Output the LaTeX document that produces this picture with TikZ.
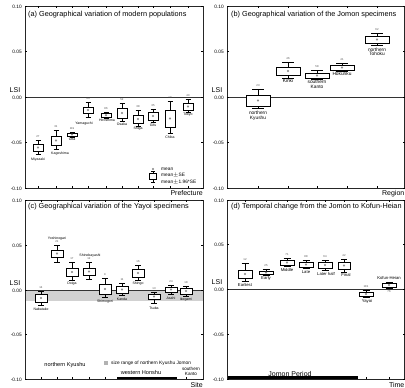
\documentclass[tikz,border=0pt]{standalone}
\usepackage{fontspec}
\setmainfont{Liberation Sans}
\usepackage{tikz}
\usetikzlibrary{positioning}

\tikzset{
  frame/.style={draw=black!85, line width=0.7pt},
  zeroline/.style={draw=black!80, line width=0.9pt},
  tickmark/.style={line width=0.4pt},
  whisker/.style={line width=0.45pt},
  boxshape/.style={draw, fill=white, line width=0.55pt},
  meanmark/.style={draw=black!55, line width=0.3pt},
  paneltitle/.style={font=\fontsize{7.3}{8}\selectfont, anchor=west, inner sep=0pt},
  ticklabel/.style={font=\fontsize{4.8}{5}\selectfont, anchor=east, inner sep=0pt},
  lsilabel/.style={font=\fontsize{7}{7}\selectfont, inner sep=0pt},
  axisname/.style={font=\fontsize{7}{7}\selectfont, inner sep=0pt},
  sitesmall/.style={font=\fontsize{3.5}{3.8}\selectfont, inner sep=0pt, align=center},
  sitebig/.style={font=\fontsize{4.8}{5}\selectfont, inner sep=0pt, align=center},
  sitemid/.style={font=\fontsize{4.2}{4.5}\selectfont, inner sep=0pt, align=center},
  ncount/.style={font=\fontsize{2.8}{3}\selectfont, inner sep=0pt, text=black!70},
  grouplabel/.style={font=\fontsize{5.6}{6}\selectfont, inner sep=0pt, align=center},
  legendtxt/.style={font=\fontsize{4.8}{5}\selectfont, anchor=west, inner sep=0pt}
}

% #1 x, #2 whisker top, #3 box top, #4 box bottom, #5 whisker bottom, #6 half width
\newcommand{\lsibox}[6]{%
  \draw[whisker] (#1,#2) -- (#1,#3) (#1,#4) -- (#1,#5)
    (#1-0.5*#6,#2) -- (#1+0.5*#6,#2) (#1-0.5*#6,#5) -- (#1+0.5*#6,#5);
  \draw[boxshape] (#1-#6,#3) rectangle (#1+#6,#4);
  \draw[meanmark] (#1,{(#3+#4)/2}) circle (0.9);
}

\begin{document}
\begin{tikzpicture}[x=1pt,y=-1pt]
  \useasboundingbox (0,0) rectangle (405,388);
  % size range band in (c)
  \fill[black!18] (25,290) rectangle (203,301);
  % frames, zero lines and axes
  \foreach \xl/\xr/\yt/\yz/\yb/\p in {25/203/6/97/188/a, 227/404.5/6/97/188/b,
      25/203/200/290/379/c, 227/404.5/200/289/379/d} {
    \pgfmathsetmacro{\yu}{(\yt+\yz)/2}
    \pgfmathsetmacro{\yl}{(\yz+\yb)/2}
    \draw[frame] (\xl,\yt) rectangle (\xr,\yb);
    \draw[zeroline] (\xl,\yz) -- (\xr,\yz);
    \foreach \yy/\lab [count=\i] in {\yt/0.10, \yu/0.05, \yz/0.00, \yl/-0.05, \yb/-0.10} {
      \draw[tickmark] (\xl,\yy) -- ++(2,0);
      \draw[tickmark] (\xr,\yy) -- ++(-2,0);
      \node[ticklabel] (tick\p\i) at (\xl-3,\yy+0.5) {\lab};
    }
    \node[lsilabel] (lsi\p) at (\xl-10,\yz-6.5) {LSI};
  }
  % category ticks
  \foreach \cx in {38,56,72,88,106,122,138,153,170,188}
    \draw[tickmark] (\cx,6) -- ++(0,2) (\cx,188) -- ++(0,-2);
  \foreach \cx in {258,288,317,347,377}
    \draw[tickmark] (\cx,6) -- ++(0,2) (\cx,188) -- ++(0,-2);
  \foreach \cx in {41,57,72,89,105,122,138,154,171,186}
    \draw[tickmark] (\cx,200) -- ++(0,2) (\cx,379) -- ++(0,-2);
  \foreach \cx in {245,266,287,306,325,344,366,389}
    \draw[tickmark] (\cx,200) -- ++(0,2) (\cx,379) -- ++(0,-2);

  % panel titles
  \node[paneltitle] (titlea) at (28,15) {(a) Geographical variation of modern populations};
  \node[paneltitle] (titleb) at (231,15) {(b) Geographical variation of the Jomon specimens};
  \node[paneltitle] (titlec) at (28,207) {(c) Geographical variation of the Yayoi specimens};
  \node[paneltitle] (titled) at (231,207) {(d) Temporal change from the Jomon to Kofun-Heian};

  % axis names
  \node[axisname, anchor=east] (prefecture) at (203,193.5) {Prefecture};
  \node[axisname, anchor=east] (region) at (404.5,193.5) {Region};
  \node[axisname, anchor=east] (site) at (203,384.5) {Site};
  \node[axisname, anchor=east] (time) at (404.5,384.5) {Time};

  % (a) modern populations
  \lsibox{38}{140}{144}{151}{154}{5}
  \lsibox{56}{130}{136}{145}{149}{5}
  \lsibox{72}{132}{133}{136}{137}{5}
  \lsibox{88}{102}{107}{113}{117}{5}
  \lsibox{106}{112}{113.5}{117}{118}{5}
  \lsibox{122}{103}{108}{118}{121}{5}
  \lsibox{138}{110}{115}{123}{126}{5}
  \lsibox{153}{109}{112}{120}{122}{5}
  \lsibox{170}{101}{110}{127}{133}{5}
  \lsibox{188}{99}{103}{110}{112}{5}
  \node[sitesmall] (miyazaki) at (38,159.5) {Miyazaki};
  \node[sitesmall] (kagoshima) at (60,153.5) {Kagoshima};
  \node[sitesmall] (oita) at (72,139.5) {Oita};
  \node[sitesmall] (yamaguchi) at (84,123.5) {Yamaguchi};
  \node[sitesmall] (hiroshima) at (107,120.5) {Hiroshima};
  \node[sitesmall] (osaka) at (122,124) {Osaka};
  \node[sitesmall] (shiga) at (138,129) {Shiga};
  \node[sitesmall] (gifu) at (153,125) {Gifu};
  \node[sitesmall] (chiba) at (170,137) {Chiba};
  \node[sitesmall] (tokyo) at (188,114.5) {Tokyo};
  \foreach \nx/\ny/\nn [count=\j] in {38/137/27, 56/127/31, 72/129/119, 88/99/44,
      106/109/86, 122/100/52, 138/107/38, 153/106/35, 170/98/19, 188/96/40}
    \node[ncount] (na\j) at (\nx,\ny) {\nn};
  % legend
  \draw[meanmark] (153,169) circle (0.9);
  \draw[whisker] (153,171) -- (153,182) (151,171) -- (155,171) (151,182) -- (155,182);
  \draw[boxshape] (149.5,173) rectangle (156.5,179.5);
  \node[legendtxt] (legmean) at (161,169) {mean};
  \node[legendtxt] (legse) at (161,175.5) {mean$\pm$SE};
  \node[legendtxt] (legci) at (161,182) {mean$\pm$1.96*SE};

  % (b) Jomon regions
  \lsibox{258}{89}{95}{106}{108}{12}
  \lsibox{288}{62}{67}{75}{78}{12}
  \lsibox{317}{70}{73}{78}{79}{12}
  \lsibox{342}{63}{65}{70}{71}{12}
  \lsibox{377}{33}{36}{43}{45}{12}
  \node[sitebig] (nkyushu) at (258,116) {northern\\[-0.5pt]Kyushu};
  \node[sitebig] (kinki) at (288,81) {Kinki};
  \node[sitebig] (skanto) at (317,84.5) {southern\\[-0.5pt]Kanto};
  \node[sitebig] (hokuriku) at (342,74) {Hokuriku};
  \node[sitebig] (ntohoku) at (377,52) {northern\\[-0.5pt]Tohoku};
  \foreach \nx/\ny/\nn [count=\j] in {258/86/23, 288/59/46, 317/67/58, 342/60/41, 377/30/62}
    \node[ncount] (nb\j) at (\nx,\ny) {\nn};

  % (c) Yayoi sites
  \lsibox{41}{291}{294}{302}{305}{6}
  \lsibox{57}{245}{250}{257}{262}{6}
  \lsibox{72}{262}{268}{276}{280}{6}
  \lsibox{89}{262}{268}{275}{279}{6}
  \lsibox{105}{278}{284}{294}{297}{6}
  \lsibox{122}{283}{286}{293}{295}{6}
  \lsibox{138}{265}{269}{277}{280}{6}
  \lsibox{154}{292}{294}{299}{303}{6}
  \lsibox{171}{285}{287}{292}{294}{6}
  \lsibox{186}{286}{288}{294}{296}{6}
  \node[sitesmall] (nabatake) at (41,309) {Nabatake};
  \node[sitesmall] (yoshinogari) at (57,239) {Yoshinogari};
  \node[sitesmall] (doiga) at (72,284) {Doiga};
  \node[sitesmall] (shinobayashi) at (90,256) {Shinobayashi};
  \node[sitesmall] (shimogori) at (105,302) {Shimogori};
  \node[sitesmall] (kanda) at (122,299) {Kanda};
  \node[sitesmall] (shingo) at (138,283.5) {Shingo};
  \node[sitesmall] (tsuba) at (154,308) {Tsuba};
  \node[sitesmall] (asahi) at (171,298) {Asahi};
  \node[sitesmall] (ikegami) at (186,300) {Ikegami};
  \foreach \nx/\ny/\nn [count=\j] in {41/288/14, 57/242/21, 72/259/17, 89/259/12, 105/275/9,
      122/280/11, 138/262/16, 154/289/13, 171/282/24, 186/283/18}
    \node[ncount] (nc\j) at (\nx,\ny) {\nn};
  % legend and groups of (c)
  \fill[black!30] (104,361) rectangle (108,365);
  \node[legendtxt] (sizerange) at (111,363) {size range of northern Kyushu Jomon};
  \node[grouplabel] (gkyushu) at (65,365.5) {northern Kyushu};
  \node[grouplabel] (ghonshu) at (141,372) {western Honshu};
  \node[grouplabel, font=\fontsize{4.6}{4.8}\selectfont] (gkanto) at (191,371.5) {southern\\Kanto};
  \fill (117,376.6) rectangle (177,379);

  % (d) temporal change
  \lsibox{245}{263}{270}{278}{281}{7}
  \lsibox{266}{269}{271}{274}{275}{7}
  \lsibox{287}{258}{260}{265}{266}{7}
  \lsibox{306}{260}{262}{267}{268}{7}
  \lsibox{325}{260}{262}{268}{270}{7}
  \lsibox{344}{259}{262}{269}{272}{6}
  \lsibox{366}{290}{292}{296}{297}{7}
  \lsibox{389}{282}{283}{287}{288}{7}
  \node[sitemid] (earliest) at (245,285) {Earliest};
  \node[sitemid] (early) at (266,278.5) {Early};
  \node[sitemid] (middle) at (287,269.5) {Middle};
  \node[sitemid] (late) at (306,272.5) {Late};
  \node[sitemid] (laterhalf) at (326,274) {Later half};
  \node[sitemid] (final) at (346,274.5) {Final};
  \node[sitemid] (yayoi) at (367,301) {Yayoi};
  \node[sitemid] (kofun) at (389,278) {Kofun-Heian};
  \foreach \nx/\ny/\nn [count=\j] in {245/260/12, 266/266/25, 287/255/71, 306/257/88,
      325/257/64, 344/256/42, 366/287/181, 389/291.5/76}
    \node[ncount] (nd\j) at (\nx,\ny) {\nn};
  \fill (228,376.4) rectangle (358,379);
  \node[font=\fontsize{7}{7}\selectfont, inner sep=0pt] (jomonperiod) at (290,373.5) {Jomon Period};
\end{tikzpicture}
\end{document}
